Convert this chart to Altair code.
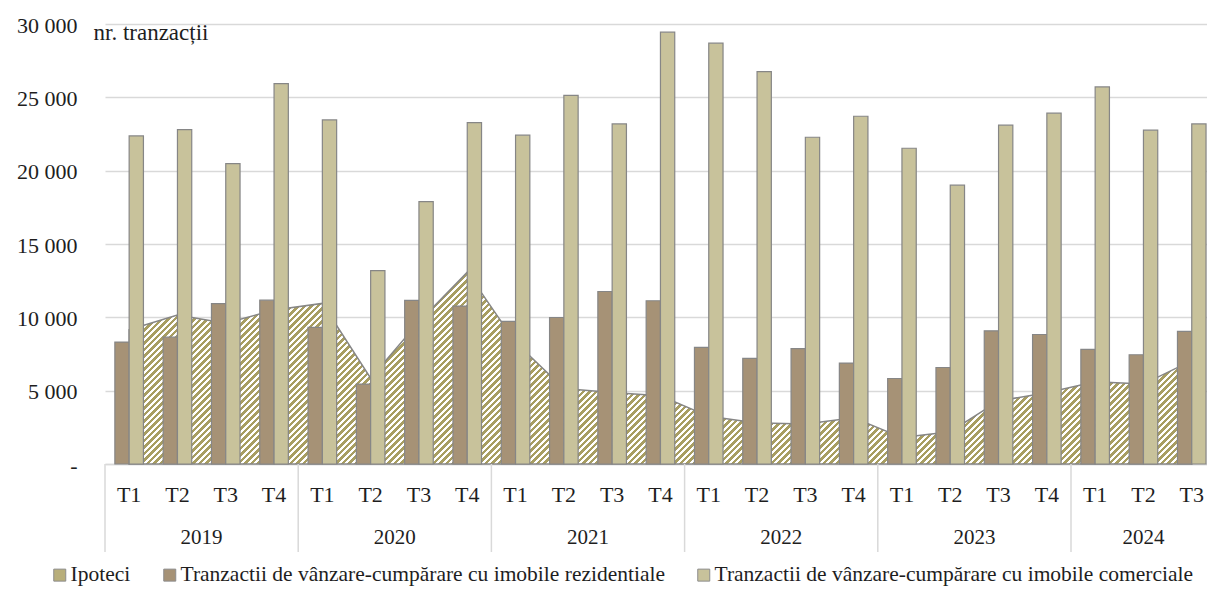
import altair as alt
import pandas as pd

years = ["2019", "2020", "2021", "2022", "2023", "2024"]
quarters = ["T1", "T2", "T3", "T4"]
quarters_per_year = [4, 4, 4, 4, 4, 3]

ipoteci = [9150, 10150, 9600, 10500,
           10950, 5850, 9700, 13080,
           8300, 5150, 4880, 4650,
           3250, 2800, 2720, 3150,
           1800, 2200, 4300, 4860,
           5600, 5450, 7050]
rezidentiale = [8310, 8650, 10940, 11170,
                9310, 5450, 11150, 10770,
                9720, 9990, 11760, 11130,
                7950, 7200, 7860, 6880,
                5830, 6580, 9080, 8830,
                7810, 7450, 9040]
comerciale = [22370, 22800, 20480, 25930,
              23460, 13190, 17890, 23280,
              22420, 25140, 23190, 29440,
              28690, 26750, 22280, 23710,
              21530, 19010, 23100, 23920,
              25710, 22760, 23190]

S_IPO = "Ipoteci"
S_REZ = "Tranzactii de vânzare-cumpărare cu imobile rezidentiale"
S_COM = "Tranzactii de vânzare-cumpărare cu imobile comerciale"

FONT = "Liberation Serif"
TXT = "#1e1e1e"
GRID = "#d9d9d9"
OUTLINE = "#868686"
C_HATCH = "#a89e62"
C_LEG_IPO = "#b8ae7a"
C_REZ = "#a69276"
C_COM = "#c8c29b"

STEP = 48.3
W, H = 1102, 440

perioade = [f"{y} {q}" for y, n in zip(years, quarters_per_year) for q in quarters[:n]]
# the category axis runs a little past the visible plot, as in the source crop
X_RANGE = [0, STEP * len(perioade)]

area_df = pd.DataFrame({"perioada": perioade, "valoare": ipoteci})
bars_df = pd.concat([
    pd.DataFrame({"perioada": perioade, "serie": S_REZ, "valoare": rezidentiale}),
    pd.DataFrame({"perioada": perioade, "serie": S_COM, "valoare": comerciale}),
])
sep_df = pd.DataFrame({"perioada": [f"{y} T1" for y in years]})
full_years = [y for y, n in zip(years, quarters_per_year) if n == 4]
part_years = [y for y, n in zip(years, quarters_per_year) if n != 4]
full_df = pd.DataFrame({"perioada": [f"{y} T2" for y in full_years], "an": full_years})
part_df = pd.DataFrame({"perioada": [f"{y} T2" for y in part_years], "an": part_years})

# diagonal hatch for the area, built as a striped linear gradient
area_w = STEP * (len(perioade) - 1)
area_h = H * max(ipoteci) / 30000
k = area_h / area_w
gx2 = (1 + k) / (1 + k * k)
gy2 = gx2 * k
n_stripes = round((area_w + area_h) / 6.5)
stops = []
for i in range(n_stripes):
    a, m, b = i / n_stripes, (i + 0.55) / n_stripes, (i + 1) / n_stripes
    stops += [
        alt.GradientStop(offset=a, color=C_HATCH),
        alt.GradientStop(offset=m, color=C_HATCH),
        alt.GradientStop(offset=m, color="#ffffff"),
        alt.GradientStop(offset=b, color="#ffffff"),
    ]
hatch = alt.LinearGradient(gradient="linear", stops=stops, x1=0, y1=0, x2=gx2, y2=gy2)

x_scale = alt.Scale(domain=perioade, range=X_RANGE, paddingInner=0, paddingOuter=0)
y_scale = alt.Scale(domain=[0, 30000], nice=False)

x_axis = alt.Axis(
    title=None, labelExpr="split(datum.value, ' ')[1]", labelAngle=0,
    ticks=False, tickSize=0, labelPadding=20, grid=False,
    domainColor=GRID, domainWidth=1.5,
    labelFont=FONT, labelFontSize=22, labelColor=TXT,
)
y_axis = alt.Axis(
    values=list(range(0, 30001, 5000)),
    title="nr. tranzacții", titleAngle=0, titleX=-12, titleY=15,
    titleAlign="left", titleBaseline="alphabetic",
    titleFont=FONT, titleFontSize=23, titleFontWeight="normal", titleColor=TXT,
    labelExpr="datum.value == 0 ? '-\u00a0\u00a0' : replace(format(datum.value, ','), ',', ' ')",
    labelFont=FONT, labelFontSize=22, labelColor=TXT, labelPadding=28, labelOffset=1,
    ticks=False, tickSize=0, domain=False,
    grid=True, gridColor=GRID, gridWidth=1.3,
)

legend = alt.Legend(
    orient="none", legendX=-56, legendY=540, direction="horizontal", columns=3,
    title=None, padding=0,
    labelFont=FONT, labelFontSize=21.5, labelColor=TXT, labelLimit=1000, labelOffset=0,
    symbolType="square", symbolSize=144, symbolStrokeColor="#8c8c8c", symbolStrokeWidth=1,
    columnPadding=28,
)

area = alt.Chart(area_df).mark_area(fill=hatch, stroke=OUTLINE, strokeWidth=1.5).encode(
    x=alt.X("perioada:N", scale=x_scale, axis=x_axis),
    y=alt.Y("valoare:Q", scale=y_scale, axis=y_axis),
)

bars = alt.Chart(bars_df).mark_bar(stroke=OUTLINE, strokeWidth=1.2).encode(
    x=alt.X("perioada:N", scale=x_scale),
    xOffset=alt.XOffset("serie:N", scale=alt.Scale(domain=[S_REZ, S_COM], paddingInner=0, paddingOuter=0.69)),
    y=alt.Y("valoare:Q", scale=y_scale),
    color=alt.Color(
        "serie:N",
        scale=alt.Scale(domain=[S_IPO, S_REZ, S_COM], range=[C_LEG_IPO, C_REZ, C_COM]),
        legend=legend,
    ),
)

separators = alt.Chart(sep_df).mark_rule(color=GRID, strokeWidth=1.5).encode(
    x=alt.X("perioada:N", scale=x_scale, bandPosition=0),
    y=alt.value(H),
    y2=alt.value(528),
)

year_full = alt.Chart(full_df).mark_text(font=FONT, fontSize=21, color=TXT, baseline="alphabetic").encode(
    x=alt.X("perioada:N", scale=x_scale, bandPosition=1),
    y=alt.value(519.5),
    text="an:N",
)
year_part = alt.Chart(part_df).mark_text(font=FONT, fontSize=21, color=TXT, baseline="alphabetic").encode(
    x=alt.X("perioada:N", scale=x_scale, bandPosition=0.5),
    y=alt.value(519.5),
    text="an:N",
)

chart = (
    alt.layer(area, bars, separators, year_full, year_part)
    .properties(
        width=W, height=H,
        autosize=alt.AutoSizeParams(type="none"),
        padding={"left": 97, "top": 16, "right": 0, "bottom": 122},
    )
    .configure_view(strokeWidth=0)
    .configure_legend(labelFont=FONT)
)

chart.save("out.html", embed_options={"renderer": "svg", "actions": False})
